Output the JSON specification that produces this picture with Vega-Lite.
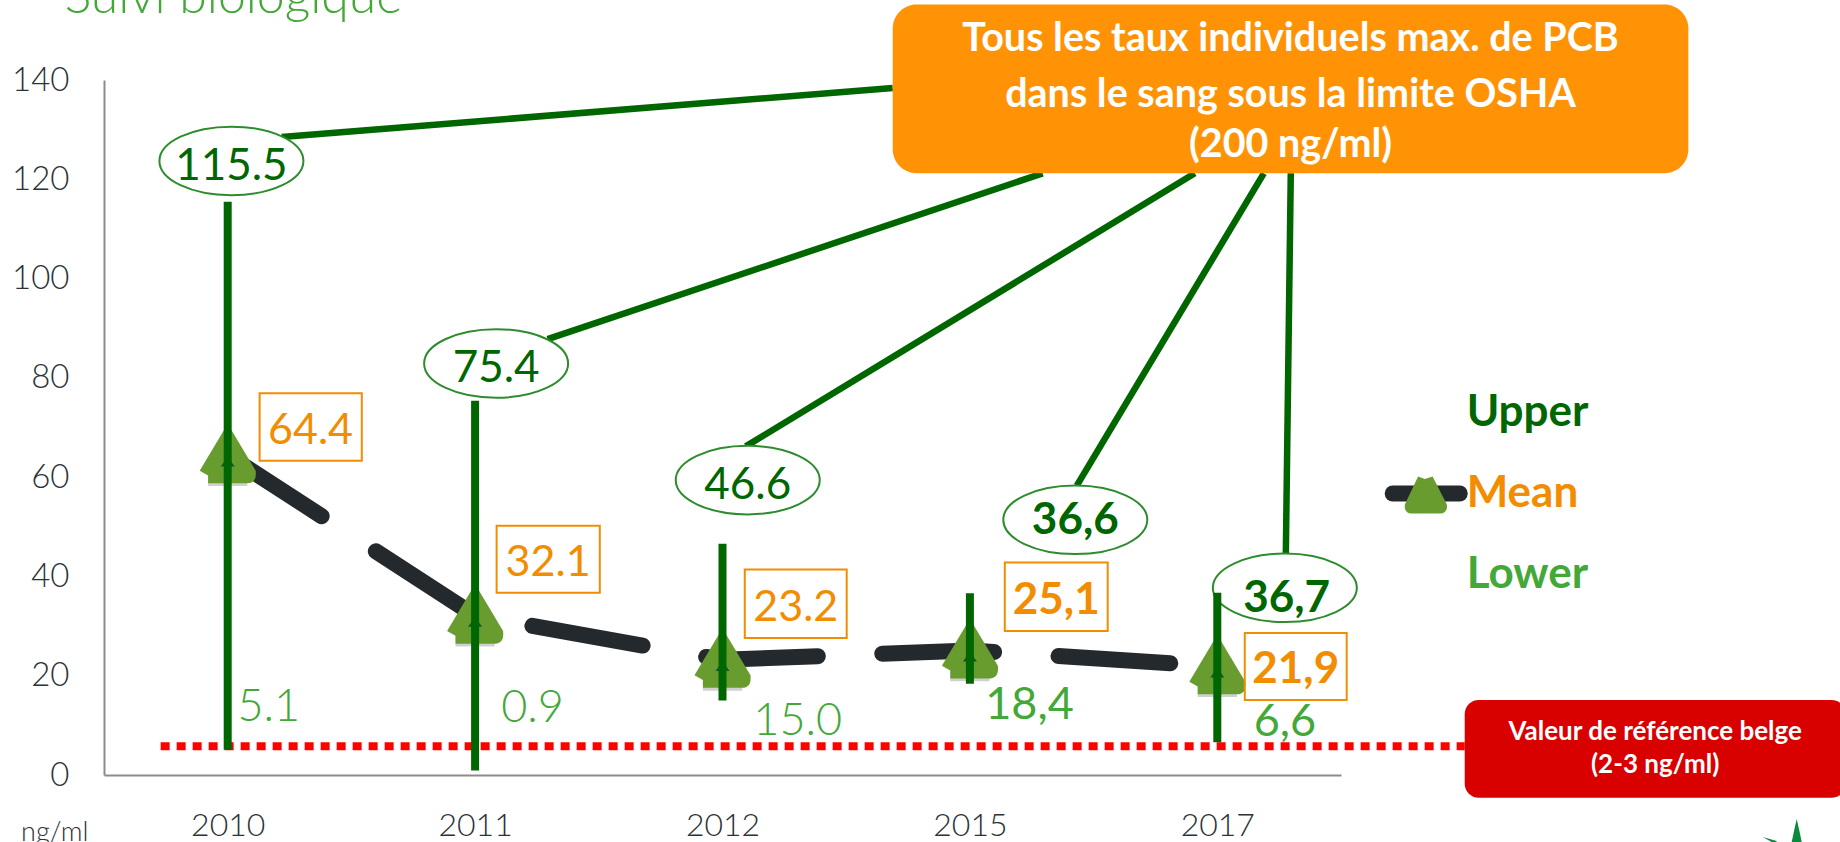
{
"$schema":"https://vega.github.io/schema/vega-lite/v6.json",
"width":1237,"height":695,
"autosize":{"type":"none"},
"padding":{"left":104,"top":80,"right":499,"bottom":67},
"background":"white",
"config":{"view":{"stroke":null},"text":{"font":"Lato"}},
"datasets":{
"pcb":[
{"year":"2010","upper":115.5,"mean":64.4,"lower":5.1},
{"year":"2011","upper":75.4,"mean":32.1,"lower":0.9},
{"year":"2012","upper":46.6,"mean":23.2,"lower":15.0},
{"year":"2015","upper":36.6,"mean":25.1,"lower":18.4},
{"year":"2017","upper":36.7,"mean":21.9,"lower":6.6}],
"connectors":[
{"a":0.218,"b":128.5,"a2":2.688,"b2":138.4},
{"a":1.293,"b":87.8,"a2":3.294,"b2":121.2},
{"a":2.094,"b":66.2,"a2":3.909,"b2":121.2},
{"a":3.432,"b":58.3,"a2":4.188,"b2":121.2},
{"a":4.277,"b":44.6,"a2":4.297,"b2":121.2}],
"upperLabels":[
{"t":"115.5","a":0.015,"b":123.7},
{"t":"75.4","a":1.085,"b":82.9},
{"t":"46.6","a":2.102,"b":59.4}],
"upperLabelsBold":[
{"t":"36,6","a":3.426,"b":51.4,"ta":3.426,"tb":51.4},
{"t":"36,7","a":4.273,"b":37.7,"ta":4.28,"tb":35.6}],
"meanBoxes":[
{"t":"64.4","a":0.129,"a2":0.542,"b":63.3,"b2":76.9,"ca":0.335,"cb":70.1},
{"t":"32.1","a":1.087,"a2":1.504,"b":36.7,"b2":50.2,"ca":1.295,"cb":43.5},
{"t":"23.2","a":2.090,"a2":2.502,"b":27.6,"b2":41.4,"ca":2.296,"cb":34.5},
{"t":"25,1","a":3.141,"a2":3.557,"b":29.0,"b2":42.8,"ca":3.349,"cb":35.9},
{"t":"21,9","a":4.111,"a2":4.523,"b":15.1,"b2":28.6,"ca":4.317,"cb":21.9}],
"lowerLabels":[
{"t":"5.1","a":0.166,"b":14.5},
{"t":"0.9","a":1.232,"b":14.3},
{"t":"15.0","a":2.304,"b":11.7}],
"lowerLabelsRegular":[
{"t":"18,4","a":3.241,"b":14.9},
{"t":"6,6","a":4.273,"b":11.5}]
},
"layer":[
{"data":{"name":"connectors"},"mark":{"type":"rule","color":"#006600","strokeWidth":6.5},
 "encoding":{"x":{"field":"a","type":"quantitative","scale":{"domain":[-0.5,4.5],"nice":false,"zero":false},"axis":null},"x2":{"field":"a2"},
 "y":{"field":"b","type":"quantitative","scale":{"domain":[0,140],"nice":false},
  "axis":{"values":[0,20,40,60,80,100,120,140],"grid":false,"ticks":false,"title":null,"domainColor":"#8c8c8c","domainWidth":2,"labelFont":"Lato","labelFontWeight":300,"labelFontSize":33,"labelColor":"#2b3238","labelPadding":35}},"y2":{"field":"b2"}}},
{"data":{"values":[{"a":-0.271,"a2":5.0,"b":5.8}]},"mark":{"type":"rule","color":"#ff0000","strokeWidth":8,"strokeDash":[9,7]},
 "encoding":{"x":{"field":"a","type":"quantitative","scale":{"domain":[-0.5,4.5],"nice":false,"zero":false},"axis":null},"x2":{"field":"a2"},"y":{"field":"b","type":"quantitative"}}},
{"data":{"values":[{"a":2.688,"a2":5.904,"b":121.2,"b2":155.2}]},"mark":{"type":"rect","color":"#ff9305","cornerRadius":24},
 "encoding":{"x":{"field":"a","type":"quantitative","scale":{"domain":[-0.5,4.5],"nice":false,"zero":false},"axis":null},"x2":{"field":"a2"},"y":{"field":"b","type":"quantitative"},"y2":{"field":"b2"}}},
{"data":{"values":[{"a":5.0,"a2":6.54,"b":-4.6,"b2":15.1}]},"mark":{"type":"rect","color":"#d90000","cornerRadius":14},
 "encoding":{"x":{"field":"a","type":"quantitative","scale":{"domain":[-0.5,4.5],"nice":false,"zero":false},"axis":null},"x2":{"field":"a2"},"y":{"field":"b","type":"quantitative"},"y2":{"field":"b2"}}},
{"data":{"name":"pcb"},"mark":{"type":"line","color":"#23292c","strokeWidth":16,"strokeCap":"round","strokeDash":[112,64.5]},
 "encoding":{"x":{"field":"year","type":"ordinal","sort":null,"scale":{"type":"point","padding":0.5,"domain":["2010","2011","2012","2015","2017"]},
  "axis":{"title":null,"ticks":false,"grid":false,"labelAngle":0,"domainColor":"#8c8c8c","domainWidth":2,"labelFont":"Lato","labelFontWeight":300,"labelFontSize":32,"labelColor":"#2b3238","labelPadding":35}},
 "y":{"field":"mean","type":"quantitative"}}},
{"data":{"name":"pcb"},"mark":{"type":"point","filled":true,"color":"#555555","opacity":0.28,"size":3136,"shape":"M-0.7,0.5 L0.7,0.5 L0.7,1.1 L-0.7,1.1 Z"},
 "encoding":{"x":{"field":"year","type":"ordinal","sort":null,"scale":{"type":"point","padding":0.5,"domain":["2010","2011","2012","2015","2017"]},"axis":null},"y":{"field":"mean","type":"quantitative"}}},
{"data":{"name":"pcb"},"mark":{"type":"point","filled":true,"color":"#699c2e","opacity":1,"size":3136,"shape":"M-0.1,-0.96 Q0,-1 0.1,-0.96 L1,0.55 Q1.05,1 0.7,1 L-0.7,1 L-0.7,0.72 L-1,0.55 Z"},
 "encoding":{"x":{"field":"year","type":"ordinal","sort":null,"scale":{"type":"point","padding":0.5,"domain":["2010","2011","2012","2015","2017"]},"axis":null},"y":{"field":"mean","type":"quantitative"}}},
{"data":{"name":"pcb"},"mark":{"type":"point","filled":true,"color":"#0b5b30","opacity":1,"size":196,"shape":"M0,0.2 L1,1.6 L-1,1.6 Z"},
 "encoding":{"x":{"field":"year","type":"ordinal","sort":null,"scale":{"type":"point","padding":0.5,"domain":["2010","2011","2012","2015","2017"]},"axis":null},"y":{"field":"mean","type":"quantitative"}}},
{"data":{"name":"upperLabels"},"mark":{"type":"point","filled":true,"fill":"white","stroke":"#2e8b2e","strokeWidth":2,"opacity":1,"size":20736,"shape":"M-1,0 C-1,-0.263 -0.552,-0.476 0,-0.476 C0.552,-0.476 1,-0.263 1,0 C1,0.263 0.552,0.476 0,0.476 C-0.552,0.476 -1,0.263 -1,0 Z"},
 "encoding":{"x":{"field":"a","type":"quantitative","scale":{"domain":[-0.5,4.5],"nice":false,"zero":false},"axis":null},"y":{"field":"b","type":"quantitative"}}},
{"data":{"name":"upperLabelsBold"},"mark":{"type":"point","filled":true,"fill":"white","stroke":"#2e8b2e","strokeWidth":2,"opacity":1,"size":20736,"shape":"M-1,0 C-1,-0.263 -0.552,-0.476 0,-0.476 C0.552,-0.476 1,-0.263 1,0 C1,0.263 0.552,0.476 0,0.476 C-0.552,0.476 -1,0.263 -1,0 Z"},
 "encoding":{"x":{"field":"a","type":"quantitative","scale":{"domain":[-0.5,4.5],"nice":false,"zero":false},"axis":null},"y":{"field":"b","type":"quantitative"}}},
{"data":{"name":"pcb"},"mark":{"type":"rule","color":"#006600","strokeWidth":8},
 "encoding":{"x":{"field":"year","type":"ordinal","sort":null,"scale":{"type":"point","padding":0.5,"domain":["2010","2011","2012","2015","2017"]},"axis":null},"y":{"field":"lower","type":"quantitative"},"y2":{"field":"upper"}}},
{"data":{"name":"upperLabels"},"mark":{"type":"text","color":"#006600","font":"Lato","fontSize":44,"fontWeight":400,"align":"center","baseline":"middle","dy":6},
 "encoding":{"x":{"field":"a","type":"quantitative","scale":{"domain":[-0.5,4.5],"nice":false,"zero":false},"axis":null},"y":{"field":"b","type":"quantitative"},"text":{"field":"t"}}},
{"data":{"name":"upperLabelsBold"},"mark":{"type":"text","color":"#006600","font":"Lato","fontSize":44,"fontWeight":700,"align":"center","baseline":"middle","dy":1},
 "encoding":{"x":{"field":"ta","type":"quantitative","scale":{"domain":[-0.5,4.5],"nice":false,"zero":false},"axis":null},"y":{"field":"tb","type":"quantitative"},"text":{"field":"t"}}},
{"data":{"name":"meanBoxes"},"mark":{"type":"rect","fill":"white","fillOpacity":0,"stroke":"#f28c00","strokeWidth":2},
 "encoding":{"x":{"field":"a","type":"quantitative","scale":{"domain":[-0.5,4.5],"nice":false,"zero":false},"axis":null},"x2":{"field":"a2"},"y":{"field":"b","type":"quantitative"},"y2":{"field":"b2"}}},
{"data":{"name":"meanBoxes"},"transform":[{"filter":"datum.t==='64.4'||datum.t==='32.1'||datum.t==='23.2'"}],"mark":{"type":"text","color":"#f28c00","font":"Lato","fontSize":43,"fontWeight":400,"align":"center","baseline":"middle","dy":4},
 "encoding":{"x":{"field":"ca","type":"quantitative","scale":{"domain":[-0.5,4.5],"nice":false,"zero":false},"axis":null},"y":{"field":"cb","type":"quantitative"},"text":{"field":"t"}}},
{"data":{"name":"meanBoxes"},"transform":[{"filter":"datum.t==='25,1'||datum.t==='21,9'"}],"mark":{"type":"text","color":"#f28c00","font":"Lato","fontSize":44,"fontWeight":700,"align":"center","baseline":"middle","dy":4},
 "encoding":{"x":{"field":"ca","type":"quantitative","scale":{"domain":[-0.5,4.5],"nice":false,"zero":false},"axis":null},"y":{"field":"cb","type":"quantitative"},"text":{"field":"t"}}},
{"data":{"name":"lowerLabels"},"mark":{"type":"text","color":"#43a838","font":"Lato","fontSize":45,"fontWeight":300,"align":"center","baseline":"middle","dy":4},
 "encoding":{"x":{"field":"a","type":"quantitative","scale":{"domain":[-0.5,4.5],"nice":false,"zero":false},"axis":null},"y":{"field":"b","type":"quantitative"},"text":{"field":"t"}}},
{"data":{"name":"lowerLabelsRegular"},"mark":{"type":"text","color":"#43a838","font":"Lato","fontSize":45,"fontWeight":400,"align":"center","baseline":"middle","dy":4},
 "encoding":{"x":{"field":"a","type":"quantitative","scale":{"domain":[-0.5,4.5],"nice":false,"zero":false},"axis":null},"y":{"field":"b","type":"quantitative"},"text":{"field":"t"}}},
{"data":{"values":[{"t":"Tous les taux individuels max. de PCB","a":4.296,"b":148.3},{"t":"dans le sang sous la limite OSHA","a":4.296,"b":137},{"t":"(200 ng/ml)","a":4.296,"b":127.0}]},"mark":{"type":"text","color":"white","font":"Lato","fontSize":39.5,"fontWeight":700,"align":"center","baseline":"middle"},
 "encoding":{"x":{"field":"a","type":"quantitative","scale":{"domain":[-0.5,4.5],"nice":false,"zero":false},"axis":null},"y":{"field":"b","type":"quantitative"},"text":{"field":"t"}}},
{"data":{"values":[{"t":"Valeur de référence belge","a":5.77,"b":8.7},{"t":"(2-3 ng/ml)","a":5.77,"b":2.1}]},"mark":{"type":"text","color":"white","font":"Lato","fontSize":26,"fontWeight":700,"align":"center","baseline":"middle"},
 "encoding":{"x":{"field":"a","type":"quantitative","scale":{"domain":[-0.5,4.5],"nice":false,"zero":false},"axis":null},"y":{"field":"b","type":"quantitative"},"text":{"field":"t"}}},
{"data":{"values":[{"a":-0.659,"b":153.5,"t":"Suivi biologique"}]},"mark":{"type":"text","color":"#43a838","font":"Lato","fontSize":50,"fontWeight":300,"align":"left","baseline":"alphabetic"},
 "encoding":{"x":{"field":"a","type":"quantitative","scale":{"domain":[-0.5,4.5],"nice":false,"zero":false},"axis":null},"y":{"field":"b","type":"quantitative"},"text":{"field":"t"}}},
{"data":{"values":[{"a":-0.699,"b":-11.6,"t":"ng/ml"}]},"mark":{"type":"text","color":"#2b3238","font":"Lato","fontSize":27,"fontWeight":300,"align":"center","baseline":"middle"},
 "encoding":{"x":{"field":"a","type":"quantitative","scale":{"domain":[-0.5,4.5],"nice":false,"zero":false},"axis":null},"y":{"field":"b","type":"quantitative"},"text":{"field":"t"}}},
{"data":{"values":[{"a":4.709,"a2":4.98,"b":56.7}]},"mark":{"type":"rule","color":"#23292c","strokeWidth":16,"strokeCap":"round"},
 "encoding":{"x":{"field":"a","type":"quantitative","scale":{"domain":[-0.5,4.5],"nice":false,"zero":false},"axis":null},"x2":{"field":"a2"},"y":{"field":"b","type":"quantitative"}}},
{"data":{"values":[{"a":4.843,"b":56.4}]},"mark":{"type":"point","filled":true,"color":"#699c2e","opacity":1,"size":1764,"shape":"M-0.37,-0.88 L-0.05,-0.76 L0.32,-0.88 L1,0.45 Q1.05,0.88 0.67,0.88 L-0.68,0.88 Q-1.05,0.88 -1,0.45 Z"},
 "encoding":{"x":{"field":"a","type":"quantitative","scale":{"domain":[-0.5,4.5],"nice":false,"zero":false},"axis":null},"y":{"field":"b","type":"quantitative"}}},
{"data":{"values":[{"a":6.342,"b":-13.5}]},"mark":{"type":"point","filled":true,"color":"#0a8a3c","opacity":1,"size":10000,"shape":"M0,-0.46 Q0.06,-0.2 0.1,0 L-0.1,0 Q-0.06,-0.2 0,-0.46 Z M-0.68,-0.1 L-0.4,-0.02 L-0.44,0.1 L-0.5,0 Z"},
 "encoding":{"x":{"field":"a","type":"quantitative","scale":{"domain":[-0.5,4.5],"nice":false,"zero":false},"axis":null},"y":{"field":"b","type":"quantitative"}}},
{"data":{"values":[{"a":5.008,"b":70.4,"t":"Upper"}]},"mark":{"type":"text","color":"#006600","font":"Lato","fontSize":44,"fontWeight":700,"align":"left","baseline":"alphabetic"},
 "encoding":{"x":{"field":"a","type":"quantitative","scale":{"domain":[-0.5,4.5],"nice":false,"zero":false},"axis":null},"y":{"field":"b","type":"quantitative"},"text":{"field":"t"}}},
{"data":{"values":[{"a":5.008,"b":54,"t":"Mean"}]},"mark":{"type":"text","color":"#f28c00","font":"Lato","fontSize":44,"fontWeight":700,"align":"left","baseline":"alphabetic"},
 "encoding":{"x":{"field":"a","type":"quantitative","scale":{"domain":[-0.5,4.5],"nice":false,"zero":false},"axis":null},"y":{"field":"b","type":"quantitative"},"text":{"field":"t"}}},
{"data":{"values":[{"a":5.008,"b":37.7,"t":"Lower"}]},"mark":{"type":"text","color":"#43a838","font":"Lato","fontSize":44,"fontWeight":700,"align":"left","baseline":"alphabetic"},
 "encoding":{"x":{"field":"a","type":"quantitative","scale":{"domain":[-0.5,4.5],"nice":false,"zero":false},"axis":null},"y":{"field":"b","type":"quantitative"},"text":{"field":"t"}}}
],
"resolve":{"scale":{"x":"independent"},"axis":{"x":"independent"}}
}
